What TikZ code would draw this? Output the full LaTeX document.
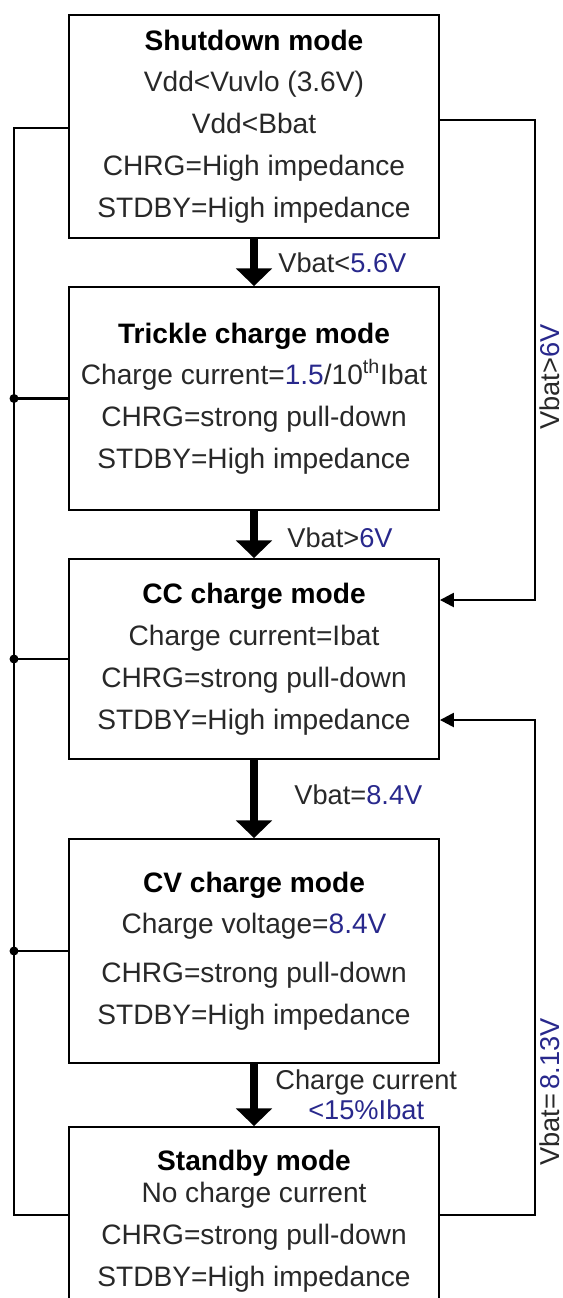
\documentclass[tikz,border=0pt]{standalone}
\usepackage{fontspec}
\setmainfont{Liberation Sans}
\usetikzlibrary{arrows.meta,positioning}
\definecolor{inkgray}{RGB}{40,40,40}
\definecolor{valblue}{RGB}{40,40,140}
\newcommand{\val}[1]{\textcolor{valblue}{#1}}
\newcommand{\modetitle}[1]{\textcolor{black}{\bfseries #1}}
\tikzset{
  modebox/.style={draw=black, line width=1.1pt, minimum width=7.4cm, inner sep=0pt,
    align=center, text=inkgray, font=\fontsize{16}{23.8}\selectfont},
  steparrow/.style={line width=5pt, -{Triangle[width=20pt,length=10pt]}},
  sidearrow/.style={line width=1.4pt, -{Triangle[width=8pt,length=8pt]}},
  busline/.style={line width=1.4pt},
  steplabel/.style={anchor=west, inner sep=0pt, text=inkgray, font=\fontsize{15.5}{17}\selectfont},
}
\begin{document}
\begin{tikzpicture}[x=0.02cm,y=-0.02cm]
\useasboundingbox (0,0) rectangle (563,1298);
\clip (0,0) rectangle (563,1298);

% mode boxes
\node[modebox, minimum height=4.46cm] (shutdown) at (254,126.5)
  {\modetitle{Shutdown mode}\\Vdd<Vuvlo (3.6V)\\Vdd<Bbat\\CHRG=High impedance\\STDBY=High impedance};
\node[modebox, minimum height=4.46cm] (trickle) at (254,398.5)
  {\modetitle{Trickle charge mode}\\Charge current=\val{1.5}/10\textsuperscript{th}Ibat\\CHRG=strong pull-down\\STDBY=High impedance};
\node[modebox, minimum height=4cm] (cc) at (254,659)
  {\modetitle{CC charge mode}\\Charge current=Ibat\\CHRG=strong pull-down\\STDBY=High impedance};
\node[modebox, minimum height=4.48cm] (cv) at (254,951)
  {\modetitle{CV charge mode}\\Charge voltage=\val{8.4V}\\[4pt]CHRG=strong pull-down\\STDBY=High impedance};
\node[modebox, minimum height=3.76cm] (standby) at (254,1221)
  {\modetitle{Standby mode}\\[-5.5pt]No charge current\\CHRG=strong pull-down\\STDBY=High impedance};

% forward steps
\draw[steparrow] (shutdown.south) -- node[steplabel, xshift=0.4cm] {Vbat<\val{5.6V}} (trickle.north);
\draw[steparrow] (trickle.south) -- node[steplabel, xshift=0.58cm, yshift=-0.07cm] {Vbat>\val{6V}} (cc.north);
\draw[steparrow] (cc.south) -- node[steplabel, xshift=0.72cm, yshift=0.08cm] {Vbat=\val{8.4V}} (cv.north);
\draw[steparrow] (cv.south) -- node[steplabel, xshift=0.34cm, align=center] {Charge current\\\val{<15\%Ibat}} (standby.north);

% left bus
\coordinate (bustop) at (14,128);
\coordinate (busbot) at (14,1215);
\draw[busline] (shutdown.west |- bustop) -- (bustop) -- (busbot) -- (busbot -| standby.west);
\foreach \m in {trickle,cc,cv} {
  \draw[busline] (\m.west) -- (\m.west -| bustop);
  \fill (\m.west -| bustop) circle[radius=0.09cm];
}

% return paths on the right
\coordinate (rtop) at (535,120);
\coordinate (rmid) at (535,600);
\coordinate (rlow) at (535,1215);
\coordinate (rup) at (535,720);
\draw[sidearrow] (rtop -| shutdown.east) -- (rtop) -- (rmid) -- (rmid -| cc.east);
\draw[sidearrow] (rlow -| standby.east) -- (rlow) -- (rup) -- (rup -| cc.east);
\node[rotate=90, inner sep=0pt, text=inkgray, font=\fontsize{15.5}{17}\selectfont] (skip6v) at (550,377) {Vbat>\val{6V}};
\node[rotate=90, inner sep=0pt, text=inkgray, font=\fontsize{15.5}{17}\selectfont] (back813) at (550,1092) {Vbat=\,\val{8.13V}};
\end{tikzpicture}
\end{document}
